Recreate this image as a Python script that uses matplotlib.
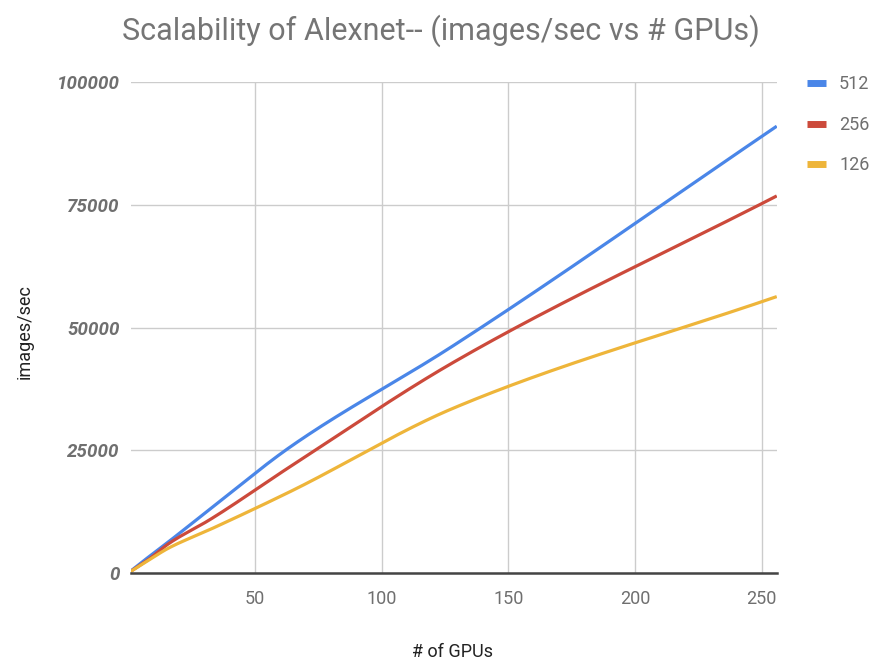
import numpy as np
import matplotlib
matplotlib.use("Agg")
import matplotlib.pyplot as plt
from matplotlib.lines import Line2D

# Throughput of Alexnet for three batch sizes
gpus = [1, 2, 4, 8, 16, 32, 64, 128, 256]
series_names = ["512", "256", "126"]
imgs_512 = [410, 820, 1640, 3250, 6400, 12900, 25700, 46200, 91000]
imgs_256 = [345, 690, 1380, 2750, 6000, 10800, 21700, 42800, 76800]
imgs_126 = [330, 650, 1300, 2600, 5100, 8800, 16600, 33500, 56300]
series_colors = ["#4a86e8", "#cc4a3b", "#eeb53a"]

x_ticks = [50, 100, 150, 200, 250]
y_ticks = [0, 25000, 50000, 75000, 100000]


def smooth_curve(x, y, n=400):
    """Monotone cubic (Fritsch-Carlson) curve through the given points."""
    x = np.asarray(x, float)
    y = np.asarray(y, float)
    h = np.diff(x)
    d = np.diff(y) / h
    m = np.zeros_like(y)
    m[0], m[-1] = d[0], d[-1]
    for i in range(1, len(x) - 1):
        if d[i - 1] * d[i] <= 0:
            m[i] = 0
        else:
            w1 = 2 * h[i] + h[i - 1]
            w2 = h[i] + 2 * h[i - 1]
            m[i] = (w1 + w2) / (w1 / d[i - 1] + w2 / d[i])
    xs = np.linspace(x[0], x[-1], n)
    idx = np.clip(np.searchsorted(x, xs) - 1, 0, len(x) - 2)
    t = (xs - x[idx]) / h[idx]
    h00 = 2 * t**3 - 3 * t**2 + 1
    h10 = t**3 - 2 * t**2 + t
    h01 = -2 * t**3 + 3 * t**2
    h11 = t**3 - t**2
    ys = (h00 * y[idx] + h10 * h[idx] * m[idx]
          + h01 * y[idx + 1] + h11 * h[idx] * m[idx + 1])
    return xs, ys


plt.rcParams["font.family"] = ["Roboto", "DejaVu Sans"]

fig = plt.figure(figsize=(8.86, 6.63), dpi=100)
ax = fig.add_axes([0.1476, 0.1357, 0.7291, 0.7406])

for vals, color in zip([imgs_512, imgs_256, imgs_126], series_colors):
    xs, ys = smooth_curve(gpus, vals)
    ax.plot(xs, ys, color=color, lw=2.3, solid_capstyle="butt", zorder=3)

ax.set_xlim(1, 256)
ax.set_ylim(0, 100000)
ax.set_xticks(x_ticks)
ax.set_yticks(y_ticks)
ax.set_xticklabels([str(v) for v in x_ticks], fontsize=13, color="#6f6f6f")
ax.set_yticklabels([str(v) for v in y_ticks], fontsize=13.5, color="#6f6f6f",
                   fontweight="bold", fontstyle="italic")
ax.tick_params(axis="both", length=0)
ax.tick_params(axis="x", pad=12)
ax.tick_params(axis="y", pad=8)
ax.grid(True, color="#cccccc", lw=1.0, zorder=0)
for s in ["left", "right", "top"]:
    ax.spines[s].set_visible(False)
ax.spines["bottom"].set_color("#444444")
ax.spines["bottom"].set_linewidth(1.8)
ax.spines["bottom"].set_zorder(4)

fig.text(0.498, 0.953, "Scalability of Alexnet-- (images/sec vs # GPUs)",
         ha="center", va="center", fontsize=22, color="#757575")
fig.text(0.511, 0.017, "# of GPUs", ha="center", va="center",
         fontsize=13, color="#222222")
fig.text(0.028, 0.50, "images/sec", ha="center", va="center",
         rotation=90, fontsize=13, color="#222222")

handles = [Line2D([0], [0], color=c, lw=5, solid_capstyle="butt")
           for c in series_colors]
fig.legend(handles, series_names, loc="upper left",
           bbox_to_anchor=(0.8927, 0.911), frameon=False, fontsize=13,
           labelcolor="#6f6f6f", handlelength=1.05, handletextpad=0.72,
           labelspacing=1.25)

fig.savefig("out.png", dpi=100, facecolor="white")
